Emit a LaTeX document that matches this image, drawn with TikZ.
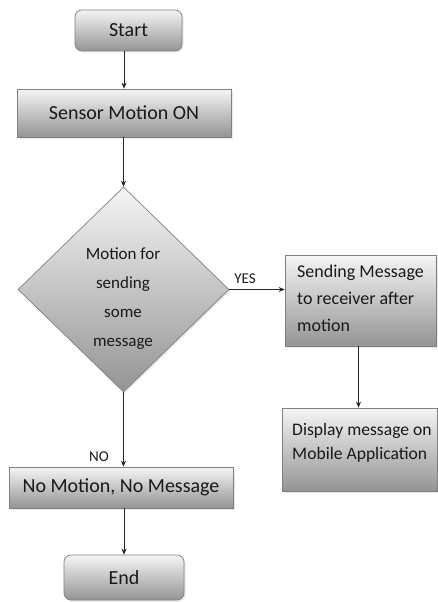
\documentclass[tikz,border=0pt]{standalone}
\usepackage{fontspec}
\setmainfont{Carlito}
\usetikzlibrary{shapes.geometric,arrows.meta,shadows}
\begin{document}
\begin{tikzpicture}[x=1pt,y=-1pt,
  shadebox/.style={draw=black!50, line width=0.7pt, top color=black!4, bottom color=black!42,
    drop shadow={opacity=0.18, shadow xshift=1.5pt, shadow yshift=-1.5pt}},
  bigfont/.style={font=\fontsize{20}{24}\selectfont, text=black!90},
  term/.style={shadebox, bigfont, rounded corners=7pt, inner sep=0pt},
  proc/.style={shadebox, bigfont, inner sep=0pt},
  dia/.style={shadebox, diamond, inner sep=0pt, minimum width=211pt, minimum height=205pt},
  rtext/.style={font=\fontsize{18}{27}\selectfont, text=black!90, align=left},
  lbl/.style={font=\fontsize{15}{18}\selectfont, text=black!90, inner sep=0pt},
  arr/.style={-{Stealth[length=6pt,width=5pt]}, line width=0.7pt, draw=black!85}
]
\useasboundingbox (0,0) rectangle (437,602);

\node[term, minimum width=107pt, minimum height=41pt] (start) at (128.5,30.5) {Start};
\node[proc, minimum width=214pt, minimum height=48pt] (sensor) at (124,113) {Sensor Motion ON};
\node[dia] (diam) at (123.5,289.5) {};
\node[font=\fontsize{17}{29}\selectfont, text=black!90, align=center, inner sep=0pt] (dtext) at (123,298.5) {Motion for\\sending\\some\\message};
\node[proc, minimum width=151pt, minimum height=91pt] (send) at (360.5,300.5) {};
\node[rtext, inner sep=0pt, anchor=north west] (sendtext) at (297,265) {Sending Message\\to receiver after\\motion};
\node[proc, minimum width=155pt, minimum height=83pt] (disp) at (359.5,449.5) {};
\node[rtext, font=\fontsize{17.6}{24}\selectfont, inner sep=0pt, anchor=north west] (disptext) at (292,423.5) {Display message on\\Mobile Application};
\node[proc, minimum width=224pt, minimum height=41pt] (nomo) at (121,487.5) {No Motion, No Message};
\node[term, minimum width=120pt, minimum height=45pt] (end) at (124,577.5) {End};

\node[lbl] (yes) at (245,279) {YES};
\node[lbl] (no) at (99,457) {NO};

\draw[arr] (start.south -| sensor.north) -- (sensor.north);
\draw[arr] (sensor.south -| diam.north) -- (diam.north);
\draw[arr] (diam.south) -- (diam.south |- nomo.north);
\draw[arr] (nomo.south -| end.north) -- (end.north);
\draw[arr] (diam.east) -- (diam.east -| send.west);
\draw[arr] ([xshift=-2pt]send.south) -- ([xshift=-2pt]send.south |- disp.north);
\end{tikzpicture}
\end{document}
